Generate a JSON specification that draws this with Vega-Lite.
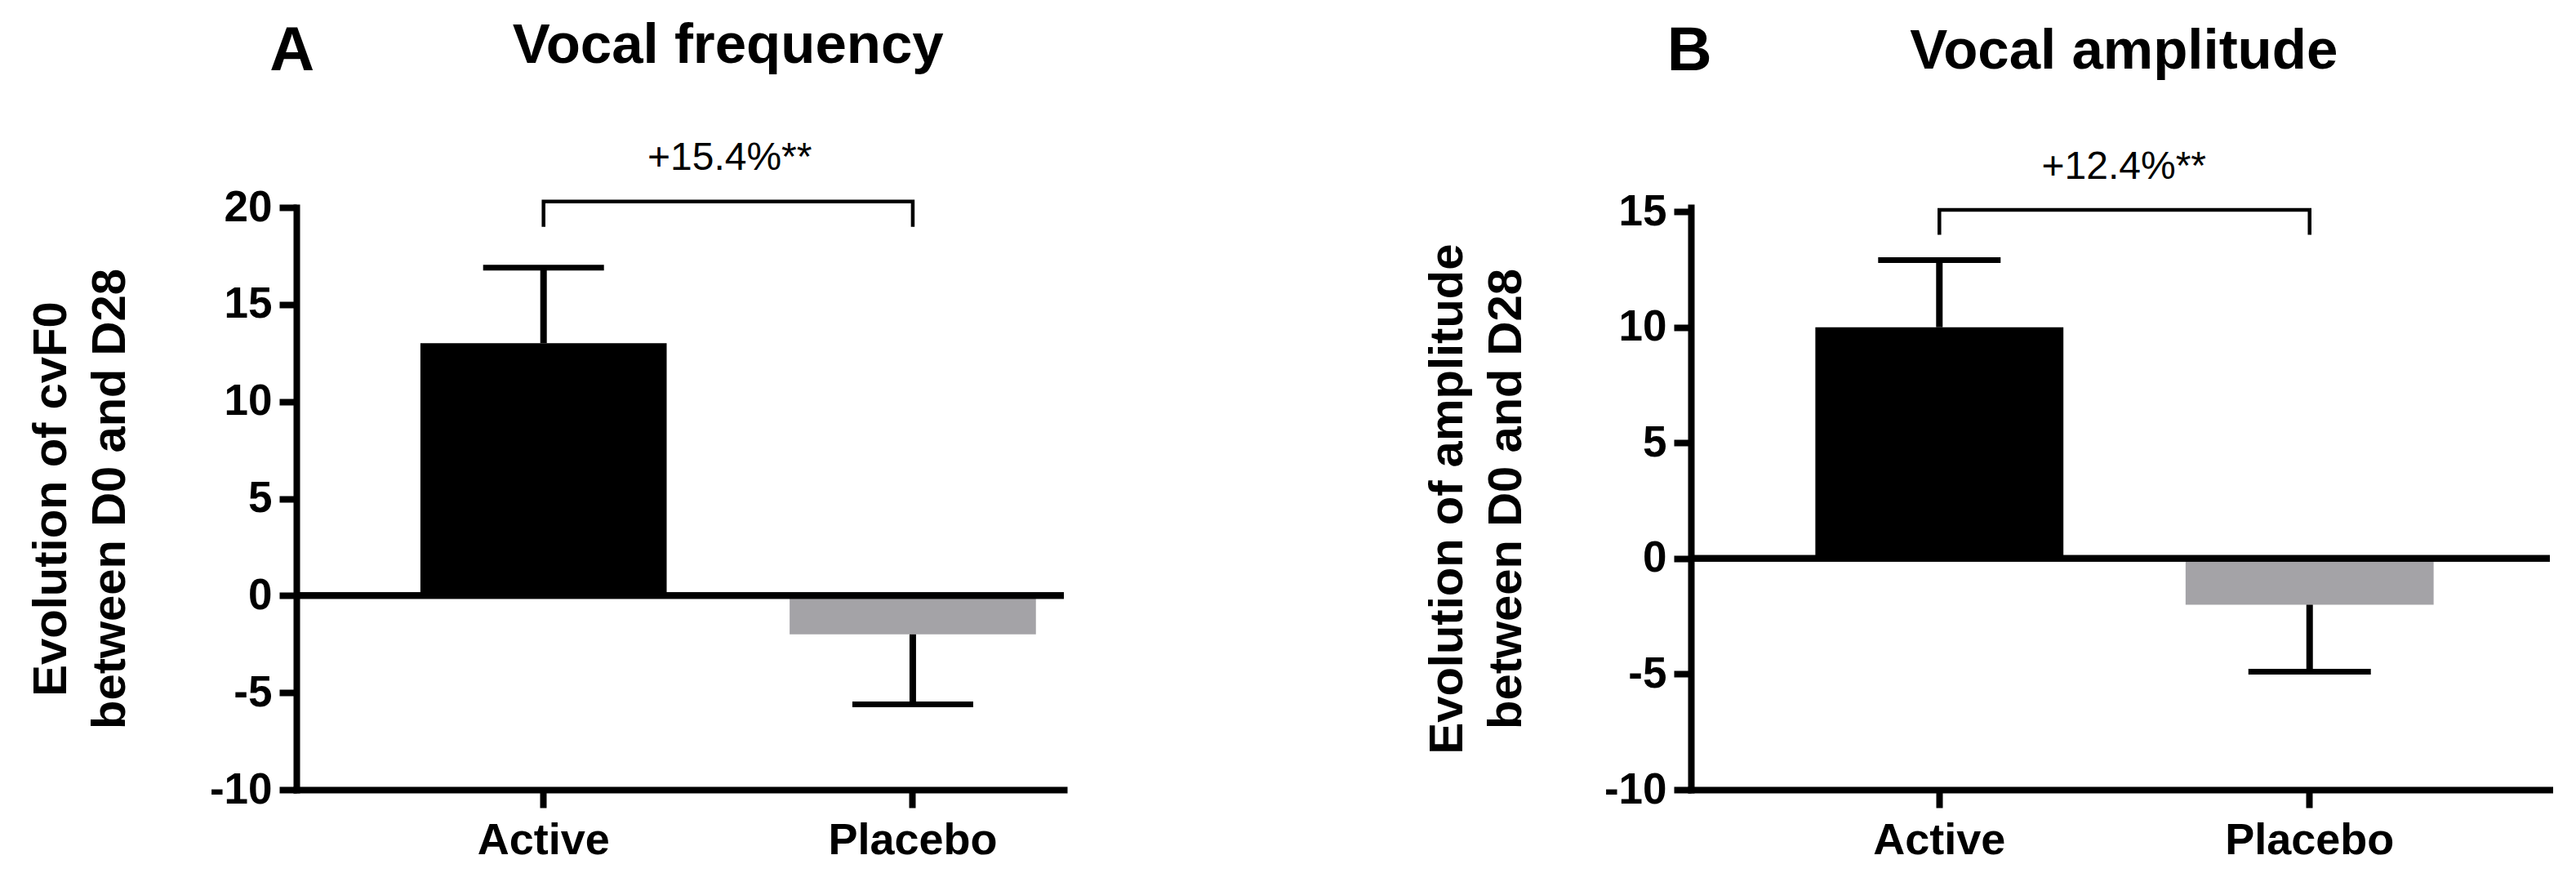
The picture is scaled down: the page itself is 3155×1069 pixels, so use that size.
{
  "$schema": "https://vega.github.io/schema/vega-lite/v6.json",
  "padding": {"left": 34, "top": 21, "right": 0, "bottom": 0},
  "background": "white",
  "bounds": "flush",
  "spacing": 768,
  "config": {
    "view": {"stroke": null},
    "font": "Liberation Sans",
    "axis": {
      "grid": false,
      "domainColor": "black",
      "tickColor": "black",
      "labelColor": "black",
      "titleColor": "black",
      "domainWidth": 8,
      "tickWidth": 8,
      "domainCap": "square",
      "labelFont": "Liberation Sans",
      "labelFontWeight": "bold",
      "labelLimit": 0,
      "titleFont": "Liberation Sans",
      "titleFontWeight": "bold"
    }
  },
  "datasets": {
    "freq": [
      {"group": "Active", "mean": 13, "err": 16.9},
      {"group": "Placebo", "mean": -2, "err": -5.6}
    ],
    "freqBracket": [
      {"group": "Active", "y": 19.0, "step": 1},
      {"group": "Active", "y": 20.3, "step": 2},
      {"group": "Placebo", "y": 20.3, "step": 3},
      {"group": "Placebo", "y": 19.0, "step": 4}
    ],
    "freqNote": [{"group": "Active", "y": 21.94, "label": "+15.4%**"}],
    "freqLetter": [{"group": "Active", "y": 27.07, "label": "A"}],
    "freqTitle": [{"group": "Active", "y": 27.45, "label": "Vocal frequency"}],
    "amp": [
      {"group": "Active", "mean": 10, "err": 12.9},
      {"group": "Placebo", "mean": -2, "err": -4.9}
    ],
    "ampBracket": [
      {"group": "Active", "y": 14.0, "step": 1},
      {"group": "Active", "y": 15.07, "step": 2},
      {"group": "Placebo", "y": 15.07, "step": 3},
      {"group": "Placebo", "y": 14.0, "step": 4}
    ],
    "ampNote": [{"group": "Active", "y": 16.41, "label": "+12.4%**"}],
    "ampLetter": [{"group": "Active", "y": 21.11, "label": "B"}],
    "ampTitle": [{"group": "Active", "y": 21.18, "label": "Vocal amplitude"}]
  },
  "hconcat": [
    {
      "width": 940,
      "height": 713,
      "encoding": {
        "x": {
          "field": "group", "type": "nominal",
          "scale": {"domain": ["Active", "Placebo"], "paddingInner": 0.333, "paddingOuter": 0.2058, "align": 0.816},
          "axis": {"title": null, "labelAngle": 0, "tickSize": 22, "labelPadding": 13, "labelFontSize": 54, "labelLimit": 0}
        }
      },
      "layer": [
        {
          "data": {"name": "freq"},
          "mark": {"type": "bar"},
          "encoding": {
            "y": {
              "field": "mean", "type": "quantitative",
              "scale": {"domain": [-10, 20], "nice": false, "zero": false},
              "axis": {"values": [-10, -5, 0, 5, 10, 15, 20], "labelExpr": "'' + datum.value", "tickSize": 21, "labelPadding": 9, "labelFontSize": 53,
                "title": ["Evolution of cvF0", "between D0 and D28"], "titleFontSize": 58, "titleLineHeight": 72,
                "titleX": -283, "titleBaseline": "alphabetic", "titleAlign": "center", "titleAngle": 270}
            },
            "color": {"field": "group", "type": "nominal", "scale": {"domain": ["Active", "Placebo"], "range": ["#000000", "#a4a3a7"]}, "legend": null}
          }
        },
        {
          "data": {"name": "freq"},
          "mark": {"type": "rule", "strokeWidth": 8, "color": "black"},
          "encoding": {"y": {"field": "mean", "type": "quantitative"}, "y2": {"field": "err"}}
        },
        {
          "data": {"name": "freq"},
          "mark": {"type": "tick", "size": 148, "thickness": 7, "color": "black", "opacity": 1},
          "encoding": {"y": {"field": "err", "type": "quantitative"}}
        },
        {
          "data": {"name": "freq"},
          "mark": {"type": "rule", "strokeWidth": 8, "color": "black"},
          "encoding": {"x": null, "y": {"datum": 0}}
        },
        {
          "data": {"name": "freqBracket"},
          "mark": {"type": "line", "strokeWidth": 4.5, "color": "black", "strokeJoin": "miter"},
          "encoding": {"y": {"field": "y", "type": "quantitative"}, "order": {"field": "step", "type": "quantitative"}}
        },
        {
          "data": {"name": "freqNote"},
          "mark": {"type": "text", "fontSize": 48, "dx": 228, "baseline": "alphabetic", "align": "center", "color": "black"},
          "encoding": {"y": {"field": "y", "type": "quantitative"}, "text": {"field": "label"}}
        },
        {
          "data": {"name": "freqLetter"},
          "mark": {"type": "text", "fontSize": 76, "fontWeight": "bold", "dx": -308, "baseline": "alphabetic", "align": "center", "color": "black"},
          "encoding": {"y": {"field": "y", "type": "quantitative"}, "text": {"field": "label"}}
        },
        {
          "data": {"name": "freqTitle"},
          "mark": {"type": "text", "fontSize": 69, "fontWeight": "bold", "dx": 226, "baseline": "alphabetic", "align": "center", "color": "black"},
          "encoding": {"y": {"field": "y", "type": "quantitative"}, "text": {"field": "label"}}
        }
      ]
    },
    {
      "width": 1052,
      "height": 713,
      "encoding": {
        "x": {
          "field": "group", "type": "nominal",
          "scale": {"domain": ["Active", "Placebo"], "paddingInner": 0.33, "paddingOuter": 0.325, "align": 0.517},
          "axis": {"title": null, "labelAngle": 0, "tickSize": 22, "labelPadding": 13, "labelFontSize": 54, "labelLimit": 0}
        }
      },
      "layer": [
        {
          "data": {"name": "amp"},
          "mark": {"type": "bar"},
          "encoding": {
            "y": {
              "field": "mean", "type": "quantitative",
              "scale": {"domain": [-10, 15.18], "nice": false, "zero": false},
              "axis": {"values": [-10, -5, 0, 5, 10, 15], "labelExpr": "'' + datum.value", "tickSize": 21, "labelPadding": 9, "labelFontSize": 53,
                "title": ["Evolution of amplitude", "between D0 and D28"], "titleFontSize": 58, "titleLineHeight": 72,
                "titleX": -281, "titleBaseline": "alphabetic", "titleAlign": "center", "titleAngle": 270}
            },
            "color": {"field": "group", "type": "nominal", "scale": {"domain": ["Active", "Placebo"], "range": ["#000000", "#a4a3a7"]}, "legend": null}
          }
        },
        {
          "data": {"name": "amp"},
          "mark": {"type": "rule", "strokeWidth": 8, "color": "black"},
          "encoding": {"y": {"field": "mean", "type": "quantitative"}, "y2": {"field": "err"}}
        },
        {
          "data": {"name": "amp"},
          "mark": {"type": "tick", "size": 150, "thickness": 7, "color": "black", "opacity": 1},
          "encoding": {"y": {"field": "err", "type": "quantitative"}}
        },
        {
          "data": {"name": "amp"},
          "mark": {"type": "rule", "strokeWidth": 8, "color": "black"},
          "encoding": {"x": null, "y": {"datum": 0}}
        },
        {
          "data": {"name": "ampBracket"},
          "mark": {"type": "line", "strokeWidth": 4.5, "color": "black", "strokeJoin": "miter"},
          "encoding": {"y": {"field": "y", "type": "quantitative"}, "order": {"field": "step", "type": "quantitative"}}
        },
        {
          "data": {"name": "ampNote"},
          "mark": {"type": "text", "fontSize": 48, "dx": 226, "baseline": "alphabetic", "align": "center", "color": "black"},
          "encoding": {"y": {"field": "y", "type": "quantitative"}, "text": {"field": "label"}}
        },
        {
          "data": {"name": "ampLetter"},
          "mark": {"type": "text", "fontSize": 76, "fontWeight": "bold", "dx": -306, "baseline": "alphabetic", "align": "center", "color": "black"},
          "encoding": {"y": {"field": "y", "type": "quantitative"}, "text": {"field": "label"}}
        },
        {
          "data": {"name": "ampTitle"},
          "mark": {"type": "text", "fontSize": 69, "fontWeight": "bold", "dx": 226, "baseline": "alphabetic", "align": "center", "color": "black"},
          "encoding": {"y": {"field": "y", "type": "quantitative"}, "text": {"field": "label"}}
        }
      ]
    }
  ]
}
